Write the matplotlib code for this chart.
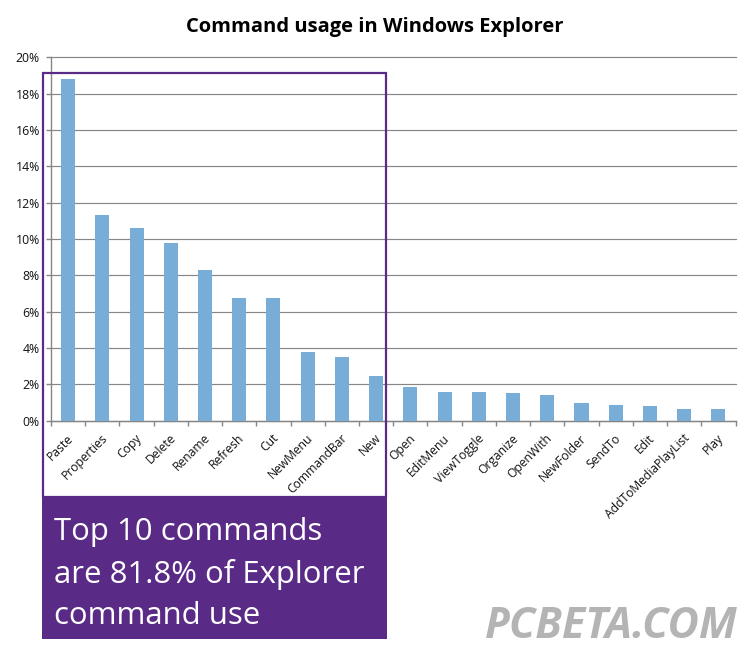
import numpy as np
import matplotlib
matplotlib.use("Agg")
import matplotlib.pyplot as plt
from matplotlib.patches import Rectangle
from matplotlib.transforms import ScaledTranslation

commands = ["Paste", "Properties", "Copy", "Delete", "Rename", "Refresh", "Cut", "NewMenu",
            "CommandBar", "New", "Open", "EditMenu", "ViewToggle", "Organize", "OpenWith",
            "NewFolder", "SendTo", "Edit", "AddToMediaPlayList", "Play"]
usage = [18.8, 11.3, 10.6, 9.8, 8.3, 6.75, 6.75, 3.77, 3.5, 2.45, 1.83, 1.57, 1.57, 1.5,
         1.4, 0.96, 0.85, 0.8, 0.63, 0.63]
y_ticks = [0, 2, 4, 6, 8, 10, 12, 14, 16, 18, 20]
title = "Command usage in Windows Explorer"
callout = "Top 10 commands\nare 81.8% of Explorer\ncommand use"
watermark = "PCBETA.COM"

W, H = 752, 650
PURPLE = "#5A2A87"
GRID = "#868686"
BAR = "#78ADD7"
FONT = ["Open Sans", "Noto Sans", "DejaVu Sans"]
plt.rcParams["font.family"] = FONT

fig = plt.figure(figsize=(W / 100, H / 100), dpi=100, facecolor="white")
ax = fig.add_axes([51 / W, 1 - 420.5 / H, (735.5 - 51) / W, (420.5 - 57.5) / H])

x = np.arange(len(commands))
ax.bar(x, usage, width=0.41, color=BAR, zorder=3)
ax.set_xlim(-0.5, len(commands) - 0.5)
ax.set_ylim(0, 20)
ax.set_yticks(y_ticks, [f"{v}%" for v in y_ticks], fontsize=8.8, color="#111111")
ax.set_xticks(np.arange(len(commands) + 1) - 0.5, [""] * (len(commands) + 1))
ax.set_xticks(x, commands, minor=True, rotation=45, ha="right", va="top",
              rotation_mode="anchor", fontsize=8.7, color="#111111")
ax.tick_params(axis="x", which="minor", length=0, pad=8)
ax.tick_params(axis="both", which="major", length=3.6, width=1.0, color=GRID)
ax.tick_params(axis="y", which="major", pad=4.5)
for label in ax.get_xticklabels(minor=True):
    label.set_transform(label.get_transform() + ScaledTranslation(-1.5 / 100, 0, fig.dpi_scale_trans))
ax.grid(axis="y", color=GRID, linewidth=0.85, zorder=1, clip_on=False)
ax.set_axisbelow(True)
for side in ("top", "right"):
    ax.spines[side].set_visible(False)
for side in ("left", "bottom"):
    ax.spines[side].set_color(GRID)
    ax.spines[side].set_linewidth(1.0)

fig.text(375 / W, 1 - 27 / H, title, ha="center", va="center", fontsize=14.5,
         fontweight="bold", color="black")

fig.add_artist(Rectangle((43 / W, 1 - 497 / H), (386 - 43) / W, (497 - 72.5) / H,
                         transform=fig.transFigure, fill=False, edgecolor=PURPLE,
                         linewidth=1.6, zorder=5))
fig.add_artist(Rectangle((42 / W, 1 - 639 / H), (387 - 42) / W, (639 - 497) / H,
                         transform=fig.transFigure, facecolor=PURPLE, edgecolor="none",
                         zorder=5))
fig.text(54 / W, 1 - 574 / H, callout, ha="left", va="center", fontsize=22.4, color="white",
         linespacing=1.49, zorder=6)
fig.text(738 / W, 1 - 626 / H, watermark, ha="right", va="center", fontsize=31,
         fontweight="bold", fontstyle="italic", color="#B4B4B4", zorder=6)

fig.savefig("out.png", dpi=100, facecolor="white")
